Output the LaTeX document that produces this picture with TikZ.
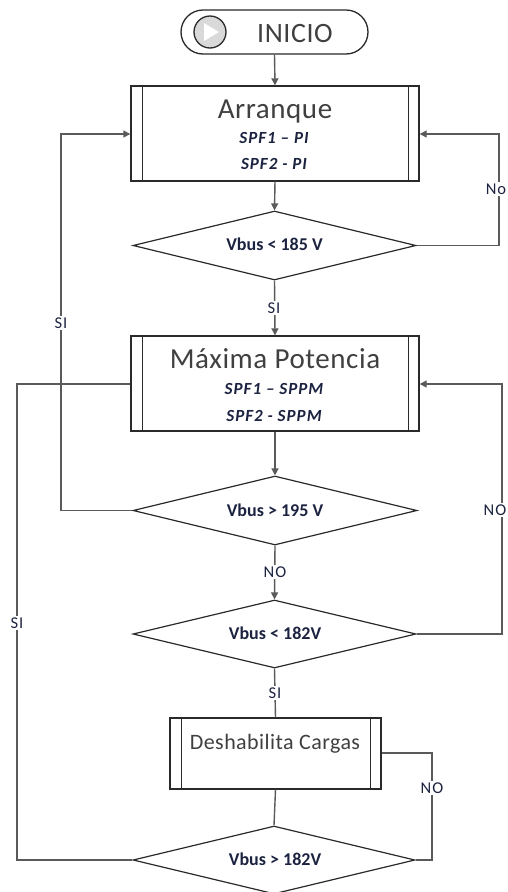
\documentclass[tikz,border=0pt]{standalone}
\usepackage{fontspec}
\setmainfont{Carlito}
\usetikzlibrary{shapes.geometric,arrows.meta}
\definecolor{lbl}{HTML}{1C2340}
\definecolor{ttl}{HTML}{404040}
\definecolor{conn}{HTML}{5A5A5A}
\definecolor{bord}{HTML}{2A2A2A}
\tikzset{
  procbox/.style={draw=bord, line width=1.4pt, rectangle, inner sep=0pt, fill=white},
  decbox/.style={draw=bord, line width=1.2pt, diamond, inner sep=0pt, fill=white},
  conline/.style={draw=conn, line width=1.4pt},
  arr/.style={conline, -{Triangle[length=7pt,width=7pt]}},
  lab/.style={fill=white, text=lbl, inner sep=1.5pt, anchor=base, font=\fontsize{16.5}{16.5}\selectfont\addfontfeature{LetterSpace=6}},
  ttltxt/.style={text=ttl, anchor=base, inner sep=0pt, font=\fontsize{29}{29}\selectfont\addfontfeature{LetterSpace=2}},
  subtxt/.style={text=lbl, anchor=base, inner sep=0pt, font=\fontsize{17}{17}\selectfont\bfseries\itshape\addfontfeature{LetterSpace=6}},
  dectxt/.style={text=lbl, anchor=base, inner sep=0pt, font=\fontsize{18}{18}\selectfont\bfseries},
}
\begin{document}
\begin{tikzpicture}[x=1pt,y=-1pt]
\useasboundingbox (0,0) rectangle (508,892);
\fill[white] (0,0) rectangle (508,892);
% start terminal
\node[draw=bord, line width=1.3pt, rounded corners=22pt, minimum width=187pt, minimum height=44pt, inner sep=0pt] (ini) at (274.5,32) {};
\node[draw=bord, line width=1.3pt, circle, fill=black!15, minimum size=32pt, inner sep=0pt] (ico) at (210,32) {};
\fill[white] (204,23) -- (219,32) -- (204,41) -- cycle;
\node[text=ttl, anchor=base, inner sep=0pt, font=\fontsize{28}{28}\selectfont\addfontfeature{LetterSpace=2}] (initxt) at (295,42) {INICIO};
% process box 1
\node[procbox, minimum width=288pt, minimum height=95pt] (b1) at (275,133.5) {};
\draw[bord, line width=1.4pt] ([xshift=12pt]b1.north west) -- ([xshift=12pt]b1.south west)
  ([xshift=-11pt]b1.north east) -- ([xshift=-11pt]b1.south east);
\node[ttltxt] (b1t) at (275,118) {Arranque};
\node[subtxt] (b1a) at (274,143) {SPF1 – PI};
\node[subtxt] (b1b) at (274,169) {SPF2 - PI};
% decision 1
\node[decbox, minimum width=283pt, minimum height=69pt] (d1) at (274.5,245.5) {};
\node[dectxt] (d1t) at (274.5,250) {Vbus < 185 V};
% process box 2
\node[procbox, minimum width=288pt, minimum height=95pt] (b2) at (275,383.5) {};
\draw[bord, line width=1.4pt] ([xshift=12pt]b2.north west) -- ([xshift=12pt]b2.south west)
  ([xshift=-11pt]b2.north east) -- ([xshift=-11pt]b2.south east);
\node[ttltxt] (b2t) at (275,368) {Máxima Potencia};
\node[subtxt] (b2a) at (274,394) {SPF1 – SPPM};
\node[subtxt] (b2b) at (274,421) {SPF2 - SPPM};
% decision 2
\node[decbox, minimum width=284pt, minimum height=69pt] (d2) at (275,510.5) {};
\node[dectxt] (d2t) at (275,516) {Vbus > 195 V};
% decision 3
\node[decbox, minimum width=283pt, minimum height=68pt] (d3) at (274.5,634) {};
\node[dectxt] (d3t) at (275,639) {Vbus < 182V};
% process box 3
\node[procbox, minimum width=211pt, minimum height=71pt] (b3) at (275.5,753.5) {};
\draw[bord, line width=1.4pt] ([xshift=12pt]b3.north west) -- ([xshift=12pt]b3.south west)
  ([xshift=-11pt]b3.north east) -- ([xshift=-11pt]b3.south east);
\node[text=ttl, anchor=base, inner sep=0pt, font=\fontsize{22}{22}\selectfont\addfontfeature{LetterSpace=2}] (b3t) at (275,749) {Deshabilita Cargas};
% decision 4
\node[decbox, minimum width=282pt, minimum height=68pt] (d4) at (274,860) {};
\node[dectxt] (d4t) at (275,865) {Vbus > 182V};
% coordinates
\coordinate (r1a) at (499,245.5);
\coordinate (r1b) at (499,134);
\coordinate (l1a) at (61,510.5);
\coordinate (l1b) at (61,134);
\coordinate (l2a) at (17,860);
\coordinate (l2b) at (17,384);
\coordinate (r2a) at (502,634);
\coordinate (r2b) at (502,384);
\coordinate (r3a) at (432,753);
\coordinate (r3b) at (432,860);
% connectors
\draw[arr] (ini.south) -- (b1.north);
\draw[arr] (b1.south) -- (d1.north);
\draw[arr] (d1.south) -- (b2.north);
\draw[arr] (b2.south) -- (d2.north);
\draw[arr] (d2.south) -- (d3.north);
\draw[conline] (d3.south) -- (b3.north);
\draw[conline] (b3.south) -- (d4.north);
\draw[arr] (d1.east) -- (r1a) -- (r1b) -- (b1.east |- r1b);
\draw[arr] (d2.west) -- (l1a) -- (l1b) -- (b1.west |- l1b);
\draw[conline] (d4.west) -- (l2a) -- (l2b) -- (b2.west |- l2b);
\draw[arr] (d3.east) -- (r2a) -- (r2b) -- (b2.east |- r2b);
\draw[conline] (b3.east |- r3a) -- (r3a) -- (r3b) -- (d4.east);
% labels
\node[lab] (s1) at (274,313) {SI};
\node[lab] (s2) at (61,328) {SI};
\node[lab] (s3) at (17,628) {SI};
\node[lab] (n1) at (275,577) {NO};
\node[lab] (s4) at (275,698) {SI};
\node[lab] (n2) at (432,793) {NO};
\node[lab] (n3) at (496,194) {No};
\node[lab] (n4) at (495,515) {NO};
\end{tikzpicture}
\end{document}
